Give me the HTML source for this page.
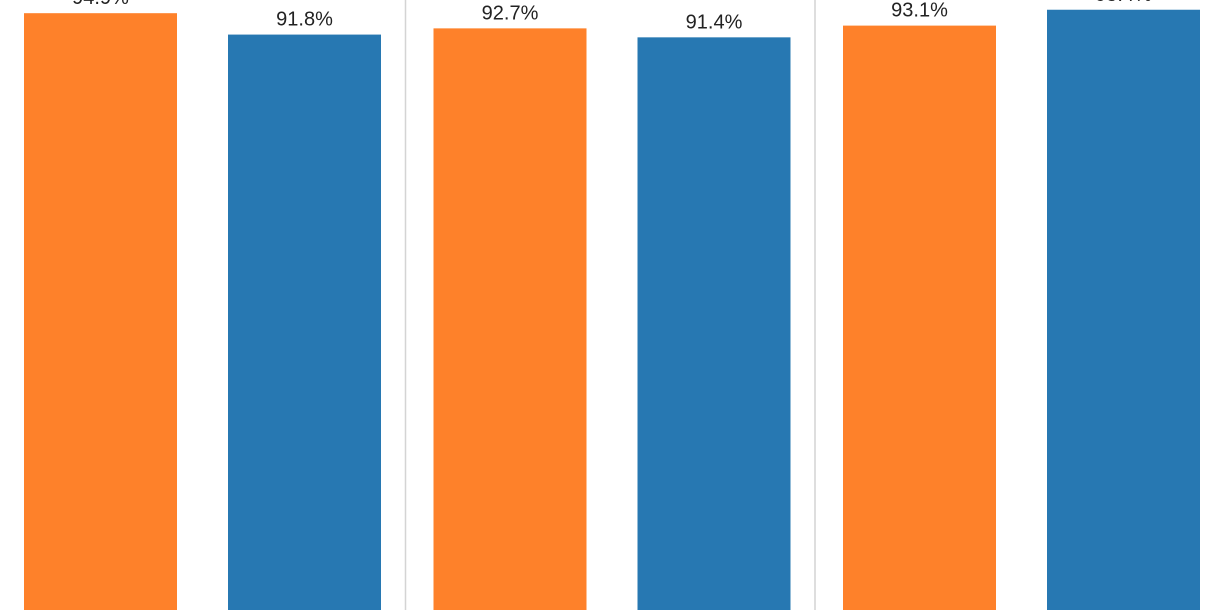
<!DOCTYPE html>
<html><head><meta charset="utf-8"><style>
html,body{margin:0;padding:0;background:#fff;width:1220px;height:610px;overflow:hidden}
svg text{font-family:"Liberation Sans",Arial,sans-serif;font-size:20px;fill:#222}
</style></head><body>
<svg id="chart" width="1220" height="610" viewBox="0 0 1220 610"></svg>
<script>
const categories = ["Group 1", "Group 2", "Group 3"];
const seriesA = [94.9, 92.7, 93.1];
const seriesB = [91.8, 91.4, 95.4];
const labelsA = ["94.9%", "92.7%", "93.1%"];
const labelsB = ["91.8%", "91.4%", "95.4%"];

const svg = document.getElementById('chart');
const NS = 'http://www.w3.org/2000/svg';
const baseY = 668, k = 6.9;
function y(v){ return baseY - v * k; }
const groupW = 409.5, x0 = 24, barW = 153, gap = 204;
function xBar(g, s){ return x0 + g * groupW + s * gap; }

for (let g = 1; g < categories.length; g++) {
  const l = document.createElementNS(NS, 'line');
  const sx = x0 + g * groupW - 29 + 1;
  l.setAttribute('x1', sx); l.setAttribute('x2', sx);
  l.setAttribute('y1', 0); l.setAttribute('y2', 610);
  l.setAttribute('stroke', '#d4d4d4'); l.setAttribute('stroke-width', 1.5);
  
  
  svg.appendChild(l);
}
const series = [[seriesA, labelsA, '#fe812a', 'orange'], [seriesB, labelsB, '#2778b2', 'blue']];
categories.forEach((c, g) => {
  series.forEach(([vals, labs, col, nm], s) => {
    const r = document.createElementNS(NS, 'rect');
    const x = xBar(g, s), top = y(vals[g]);
    r.setAttribute('x', x); r.setAttribute('y', top);
    r.setAttribute('width', barW); r.setAttribute('height', 610 - top + 5);
    r.setAttribute('fill', col);
    
    
    svg.appendChild(r);
    const t = document.createElementNS(NS, 'text');
    t.setAttribute('x', x + barW / 2); t.setAttribute('y', top - 9);
    t.setAttribute('text-anchor', 'middle');
    t.textContent = labs[g];
    
    
    svg.appendChild(t);
  });
});
</script>
</body></html>
